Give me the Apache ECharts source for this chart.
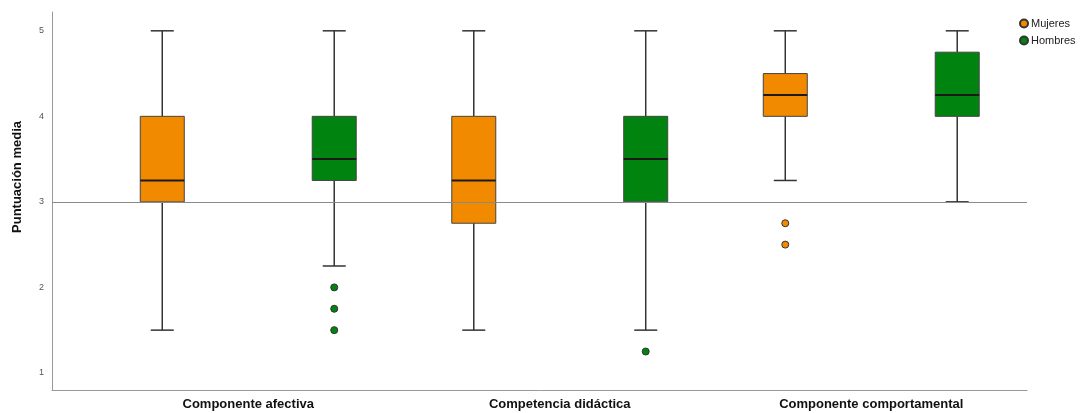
<!DOCTYPE html>
<html>
<head>
<meta charset="utf-8">
<script src="https://cdn.jsdelivr.net/npm/echarts@6/dist/echarts.min.js"></script>
<style>
  html, body { margin: 0; padding: 0; background: #fff; }
  #chart { width: 1087px; height: 413px; }
</style>
</head>
<body>
<div id="chart"></div>
<script>
// Group labels along the horizontal axis
const categories = ['Componente afectiva', 'Competencia didáctica', 'Componente comportamental'];
const yTicks = [1, 2, 3, 4, 5];
const seriesNames = ['Mujeres', 'Hombres'];

// Five-number summaries per group: [min, Q1, median, Q3, max]
const mujeresBox = [
  [1.5, 3.0, 3.25, 4.0, 5.0],
  [1.5, 2.75, 3.25, 4.0, 5.0],
  [3.25, 4.0, 4.25, 4.5, 5.0]
];
const hombresBox = [
  [2.25, 3.25, 3.5, 4.0, 5.0],
  [1.5, 3.0, 3.5, 4.0, 5.0],
  [3.0, 4.0, 4.25, 4.75, 5.0]
];

// Outliers: [group index, value]
const mujeresOut = [[2, 2.75], [2, 2.5]];
const hombresOut = [[0, 2.0], [0, 1.75], [0, 1.5], [1, 1.25]];

// Horizontal reference value
const refValue = 3;

const COLORS = { Mujeres: '#F28A00', Hombres: '#00840F' };
const OFFSET = 0.276;   // half the distance between paired boxes, in group units
const BOX_W = 44;
const CAP_W = 23;
const EDGE = '#333333';

function boxRenderer(offset, color) {
  return function (params, api) {
    const x = api.value(0) + offset;
    const pMin = api.coord([x, api.value(1)]);
    const pQ1 = api.coord([x, api.value(2)]);
    const pMed = api.coord([x, api.value(3)]);
    const pQ3 = api.coord([x, api.value(4)]);
    const pMax = api.coord([x, api.value(5)]);
    const cx = pMed[0];
    const lineStyle = { stroke: EDGE, lineWidth: 1.5 };
    return {
      type: 'group',
      children: [
        { type: 'line', shape: { x1: cx, y1: pMax[1], x2: cx, y2: pQ3[1] }, style: lineStyle },
        { type: 'line', shape: { x1: cx, y1: pQ1[1], x2: cx, y2: pMin[1] }, style: lineStyle },
        { type: 'line', shape: { x1: cx - CAP_W / 2, y1: pMax[1], x2: cx + CAP_W / 2, y2: pMax[1] }, style: lineStyle },
        { type: 'line', shape: { x1: cx - CAP_W / 2, y1: pMin[1], x2: cx + CAP_W / 2, y2: pMin[1] }, style: lineStyle },
        { type: 'rect', shape: { x: cx - BOX_W / 2, y: pQ3[1], width: BOX_W, height: pQ1[1] - pQ3[1] },
          style: { fill: color, stroke: '#444', lineWidth: 1 } },
        { type: 'line', shape: { x1: cx - BOX_W / 2, y1: pMed[1], x2: cx + BOX_W / 2, y2: pMed[1] },
          style: { stroke: '#1a1a1a', lineWidth: 2 } }
      ]
    };
  };
}

function boxData(stats) {
  return stats.map((s, i) => [i].concat(s));
}

const chart = echarts.init(document.getElementById('chart'), null, { renderer: 'canvas' });

chart.setOption({
  backgroundColor: '#ffffff',
  animation: false,
  textStyle: { fontFamily: 'Liberation Sans, Arial, sans-serif' },
  grid: { left: 52, right: 60, top: 12, bottom: 23, containLabel: false },
  legend: {
    orient: 'vertical',
    left: 1014,
    top: 13,
    itemWidth: 8,
    itemHeight: 8,
    itemGap: 6,
    icon: 'circle',
    data: seriesNames,
    textStyle: { fontSize: 11, color: '#222', padding: [0, 0, 0, -2] }
  },
  xAxis: {
    type: 'value',
    min: -0.63,
    max: 2.5,
    axisLine: { show: true, onZero: false, lineStyle: { color: '#999', width: 1 } },
    axisTick: { show: false },
    splitLine: { show: false },
    axisLabel: {
      customValues: [0, 1, 2],
      formatter: v => categories[Math.round(v)],
      fontSize: 13,
      fontWeight: 'bold',
      color: '#111',
      margin: 8
    }
  },
  yAxis: {
    type: 'value',
    min: 0.8,
    max: 5.22,
    name: 'Puntuación media',
    nameLocation: 'middle',
    nameGap: 28,
    nameTextStyle: { fontSize: 13, fontWeight: 'bold', color: '#111', padding: [0, 0, 0, 48] },
    axisLine: { show: true, onZero: false, lineStyle: { color: '#999', width: 1 } },
    axisTick: { show: false },
    splitLine: { show: false },
    axisLabel: {
      customValues: yTicks,
      fontSize: 9,
      color: '#555',
      margin: 8
    }
  },
  series: [
    {
      name: seriesNames[0],
      type: 'custom',
      renderItem: boxRenderer(-OFFSET, COLORS.Mujeres),
      itemStyle: { color: COLORS.Mujeres, borderColor: EDGE, borderWidth: 1 },
      encode: { x: 0, y: [1, 2, 3, 4, 5] },
      data: boxData(mujeresBox),
      z: 2
    },
    {
      name: seriesNames[1],
      type: 'custom',
      renderItem: boxRenderer(OFFSET, COLORS.Hombres),
      itemStyle: { color: COLORS.Hombres, borderColor: EDGE, borderWidth: 1 },
      encode: { x: 0, y: [1, 2, 3, 4, 5] },
      data: boxData(hombresBox),
      z: 2
    },
    {
      name: seriesNames[0],
      type: 'scatter',
      symbol: 'circle',
      symbolSize: 7,
      itemStyle: { color: COLORS.Mujeres, borderColor: EDGE, borderWidth: 1, opacity: 1 },
      data: mujeresOut.map(([g, v]) => [g - OFFSET, v]),
      z: 3
    },
    {
      name: seriesNames[1],
      type: 'scatter',
      symbol: 'circle',
      symbolSize: 7,
      itemStyle: { color: COLORS.Hombres, borderColor: EDGE, borderWidth: 1, opacity: 1 },
      data: hombresOut.map(([g, v]) => [g + OFFSET, v]),
      z: 3,
      markLine: {
        silent: true,
        symbol: 'none',
        label: { show: false },
        lineStyle: { color: '#8a8a8a', width: 1.2, type: 'solid' },
        data: [{ yAxis: refValue }],
        z: 10
      }
    }
  ]
});
</script>
</body>
</html>
